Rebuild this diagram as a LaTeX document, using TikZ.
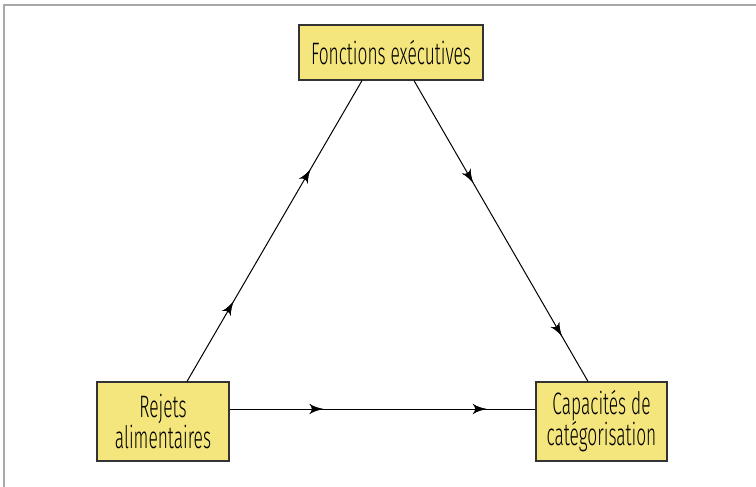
\documentclass[tikz,border=0pt]{standalone}
\usepackage{fontspec}
\setmainfont[FakeStretch=0.56]{Fira Sans Light}
\usepackage{tikz}
\usetikzlibrary{positioning, arrows, decorations.markings}
\definecolor{boxfill}{HTML}{F4E67C}
\definecolor{boxline}{HTML}{333333}
\definecolor{frameline}{HTML}{A8A8A8}
\tikzset{
block/.style={
  draw=boxline,
  fill=boxfill,
  rectangle,
  line width=0.6pt,
  inner sep=0pt,
  font=\fontsize{15.5}{15.5}\selectfont,
  align=center
  },
line/.style={line width=0.5pt},
mid/.style={postaction={decorate}, decoration={markings,
  mark=at position #1 with {\arrow[scale=1.6]{latex'}}}}
}
\begin{document}
\begin{tikzpicture}[x=0.5pt, y=-0.5pt]
\useasboundingbox (0,0) rectangle (756,487);
\draw[frameline, line width=1pt] (4,487) -- (4,5) -- (756,5);
\node[block, minimum width=92pt, minimum height=27.5pt] (fonctions) at (391,52.5) {Fonctions exécutives};
\node[block, minimum width=66pt, minimum height=39.5pt] (rejets) at (163,421.5) {Rejets\\alimentaires};
\node[block, minimum width=65.5pt, minimum height=39.5pt] (capacites) at (601.5,421.5) {Capacités de\\catégorisation};
\draw[line, mid=0.265, mid=0.705] ([xshift=12pt]rejets.north) -- ([xshift=-14.5pt]fonctions.south);
\draw[line, mid=0.34, mid=0.85] ([xshift=11.5pt]fonctions.south) -- ([xshift=-6.75pt]capacites.north);
\draw[line, mid=0.306, mid=0.84] ([yshift=6.25pt]rejets.east) -- ([yshift=6.25pt]capacites.west);
\end{tikzpicture}
\end{document}
